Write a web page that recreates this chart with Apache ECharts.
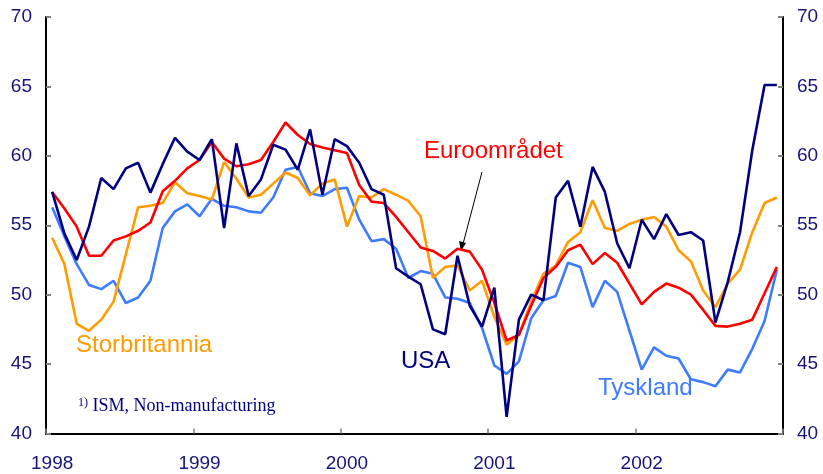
<!DOCTYPE html>
<html>
<head>
<meta charset="utf-8">
<script src="https://cdn.jsdelivr.net/npm/echarts@6/dist/echarts.min.js"></script>
<style>
  html, body { margin: 0; padding: 0; background: #fff; }
  #chart { width: 823px; height: 474px; }
</style>
</head>
<body>
<div id="chart"></div>
<script>
// months Jan 1998 .. Dec 2002
const years = ["1998", "1999", "2000", "2001", "2002"];
const months = [];
years.forEach((y) => {
  for (let m = 1; m <= 12; m++) months.push(y + "-" + String(m).padStart(2, "0"));
});

const usa = [
  57.4, 54.4, 52.5, 54.9, 58.4, 57.6, 59.1, 59.5, 57.35, 59.4, 61.3, 60.3,
  59.7, 61.2, 54.8, 60.9, 57.1, 58.3, 60.8, 60.45, 59.0, 61.9, 57.2, 61.2,
  60.7, 59.5, 57.6, 57.2, 51.9, 51.3, 50.75, 47.5, 47.15, 52.8, 49.2, 47.7,
  50.5, 41.2, 48.2, 50.0, 49.6, 57.0, 58.2, 54.9, 59.2, 57.4, 53.7, 51.9,
  55.4, 54.0, 55.8, 54.3, 54.5, 53.9, 48.0, 50.9, 54.5, 60.4, 65.1, 65.1,
];
const euro = [
  57.4, 56.2, 54.9, 52.8, 52.8, 53.9, 54.2, 54.6, 55.2, 57.45, 58.2, 59.1,
  59.7, 61.0, 59.8, 59.25, 59.4, 59.7, 61.0, 62.4, 61.5, 60.85, 60.6, 60.4,
  60.2, 57.9, 56.7, 56.6, 55.6, 54.5, 53.4, 53.15, 52.6, 53.3, 53.1, 51.8,
  49.4, 46.7, 47.1, 49.2, 51.2, 52.0, 53.2, 53.6, 52.2, 53.0, 52.3, 50.8,
  49.3, 50.2, 50.8, 50.5, 50.0, 48.9, 47.75, 47.7, 47.9, 48.2, 50.1, 52.0,
];
const storbritannia = [
  54.1, 52.2, 47.9, 47.4, 48.2, 49.5, 52.9, 56.3, 56.4, 56.6, 58.1, 57.3,
  57.1, 56.85, 59.55, 58.35, 57.0, 57.2, 58.0, 58.8, 58.4, 57.15, 58.0, 58.3,
  54.9, 57.1, 57.0, 57.6, 57.2, 56.75, 55.65, 51.2, 52.0, 52.1, 50.3, 51.0,
  48.4, 46.4, 47.1, 49.5, 51.5, 52.1, 53.8, 54.5, 56.8, 54.8, 54.6, 55.1,
  55.4, 55.6, 54.9, 53.2, 52.4, 50.3, 49.1, 50.8, 51.8, 54.5, 56.6, 57.0,
];
const tyskland = [
  56.3, 54.2, 52.2, 50.7, 50.4, 51.0, 49.4, 49.8, 51.0, 54.8, 56.0, 56.5,
  55.65, 56.9, 56.4, 56.3, 56.0, 55.9, 57.0, 59.0, 59.2, 57.3, 57.1, 57.6,
  57.7, 55.4, 53.85, 54.0, 53.3, 51.2, 51.7, 51.5, 49.8, 49.7, 49.4, 47.6,
  44.9, 44.3, 45.2, 48.3, 49.6, 49.9, 52.3, 52.0, 49.1, 51.0, 50.2, 47.4,
  44.6, 46.2, 45.6, 45.4, 43.9, 43.7, 43.4, 44.6, 44.4, 46.1, 48.1, 51.8,
];

const navy = "#000080";
const labelColor = "#14147a";
const font = "Liberation Sans, Arial, sans-serif";

const chart = echarts.init(document.getElementById("chart"));

const yAxisBase = {
  type: "value",
  min: 40,
  max: 70,
  interval: 5,
  splitLine: { show: false },
  axisLine: { show: true, lineStyle: { color: "#000", width: 2 } },
  axisTick: { show: true, inside: true, length: 5, lineStyle: { color: "#808080", width: 2 } },
  axisLabel: { color: labelColor, fontSize: 19, fontFamily: font, margin: 14 },
};

const lineSeries = (name, data, color) => ({
  name,
  type: "line",
  data,
  symbol: "none",
  smooth: false,
  lineStyle: { color, width: 2.6 },
  itemStyle: { color },
  animation: false,
});

chart.setOption({
  backgroundColor: "#fff",
  animation: false,
  grid: { left: 46, right: 40, top: 17, bottom: 40.5 },
  xAxis: {
    type: "category",
    data: months,
    boundaryGap: true,
    axisLine: { show: true, lineStyle: { color: "#000", width: 2 } },
    axisTick: {
      show: true,
      inside: true,
      length: 5,
      interval: (i) => i % 12 === 0,
      lineStyle: { color: "#808080", width: 1.5 },
    },
    axisLabel: {
      interval: (i) => i % 12 === 0,
      formatter: (v) => v.slice(0, 4),
      color: labelColor,
      fontSize: 19,
      fontFamily: font,
      margin: 21,
    },
    splitLine: { show: false },
  },
  yAxis: [
    { ...yAxisBase, position: "left" },
    { ...yAxisBase, position: "right" },
  ],
  series: [
    lineSeries("Tyskland", tyskland, "#3d7bff"),
    lineSeries("Storbritannia", storbritannia, "#ff9c00"),
    lineSeries("Euroområdet", euro, "#ff0000"),
    lineSeries("USA", usa, navy),
  ],
  graphic: [
    { type: "text", left: 424, top: 139, style: { text: "Euroområdet", fill: "#ff0000", font: "24px " + font } },
    { type: "text", left: 76, top: 333, style: { text: "Storbritannia", fill: "#ff9c00", font: "24px " + font } },
    { type: "text", left: 401, top: 349, style: { text: "USA", fill: navy, font: "24px " + font } },
    { type: "text", left: 598, top: 376, style: { text: "Tyskland", fill: "#3d7bff", font: "24px " + font } },
    {
      type: "text",
      left: 78,
      top: 397,
      style: {
        text: "{sup|1)} ISM, Non-manufacturing",
        fill: navy,
        font: "18px Liberation Serif, Times New Roman, serif",
        rich: { sup: { fontSize: 12, verticalAlign: "top", fill: navy, fontFamily: "Liberation Serif" } },
      },
    },
    { type: "line", shape: { x1: 482, y1: 172, x2: 463, y2: 244 }, style: { stroke: "#000", lineWidth: 1 } },
    { type: "polygon", shape: { points: [[461, 251], [459, 241], [466, 243]] }, style: { fill: "#000" } },
  ],
});
</script>
</body>
</html>
